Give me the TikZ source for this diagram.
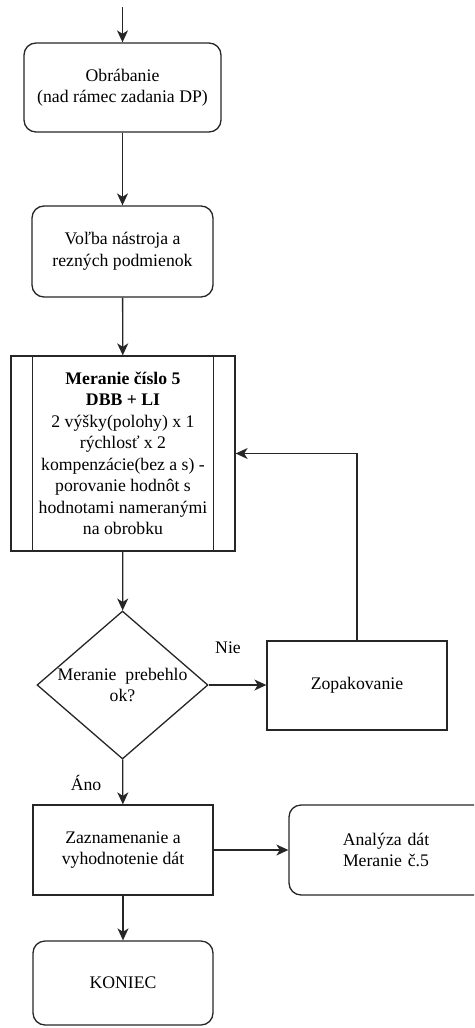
\documentclass[tikz,border=0pt]{standalone}
\usepackage{fontspec}
\setmainfont{Liberation Serif}
\usetikzlibrary{arrows.meta,shapes.geometric}
\begin{document}
\begin{tikzpicture}[x=1pt,y=-1pt,
  every node/.style={font=\fontsize{17.7}{21.5}\selectfont, text=black, inner sep=0pt, align=center},
  lw/.style={line width=1.3pt, draw=black!85},
  rbox/.style={lw, rectangle, rounded corners=12pt},
  sbox/.style={lw, rectangle},
  dia/.style={lw, diamond},
  arr/.style={lw, -{Stealth[length=12pt,width=11pt,inset=3.5pt]}},
  lbl/.style={font=\fontsize{17.7}{21.5}\selectfont}
]
\useasboundingbox (0,0) rectangle (474,1028);
\clip (0,0) rectangle (474,1028);

\coordinate (start) at (122.5,7);
\node[rbox, minimum width=197pt, minimum height=89pt] (b1) at (122.5,87.5) {Obrábanie\\(nad rámec zadania DP)};
\node[rbox, minimum width=181pt, minimum height=91pt] (b2) at (122.5,251.5) {Voľba nástroja a\\rezných podmienok};
\node[sbox, minimum width=224pt, minimum height=195pt] (b3) at (123,453.5) {\textbf{Meranie číslo 5}\\\textbf{DBB + LI}\\2 výšky(polohy) x 1\\rýchlosť x 2\\kompenzácie(bez a s) -\\porovanie hodnôt s\\hodnotami nameranými\\na obrobku};
\draw[lw] ([xshift=22pt]b3.north west) -- ([xshift=22pt]b3.south west);
\draw[lw] ([xshift=-22pt]b3.north east) -- ([xshift=-22pt]b3.south east);

\node[dia, minimum width=171pt, minimum height=148pt,
  label={[align=center]center:Meranie\ \ prebehlo\\ok?}] (d) at (122.5,685) {};
\node[sbox, minimum width=180pt, minimum height=89pt] (zop) at (357,685.5) {Zopakovanie};
\node[sbox, minimum width=180pt, minimum height=90pt] (zaz) at (123,850) {Zaznamenanie a\\vyhodnotenie dát};
\node[rbox, minimum width=210pt, minimum height=90pt, text width=194pt] (ana) at (394,850) {\hspace*{-16pt}Analýza dát\\\hspace*{-16pt}Meranie č.5};
\node[rbox, minimum width=180pt, minimum height=84pt] (kon) at (123,983) {KONIEC};

\node[lbl] (nie) at (228,648) {Nie};
\node[lbl] (ano) at (86,783) {Áno};

\draw[arr] (start) -- (b1);
\draw[arr] (b1) -- (b2);
\draw[arr] (b2) -- (b3);
\draw[arr] (b3) -- (d);
\draw[arr] (d) -- (zaz);
\draw[arr] (d.east) -- (d.east -| zop.west);
\draw[arr] (zop.north) |- (b3.east);
\draw[arr] (zaz) -- (ana);
\draw[arr] (zaz) -- (kon);
\end{tikzpicture}
\end{document}
